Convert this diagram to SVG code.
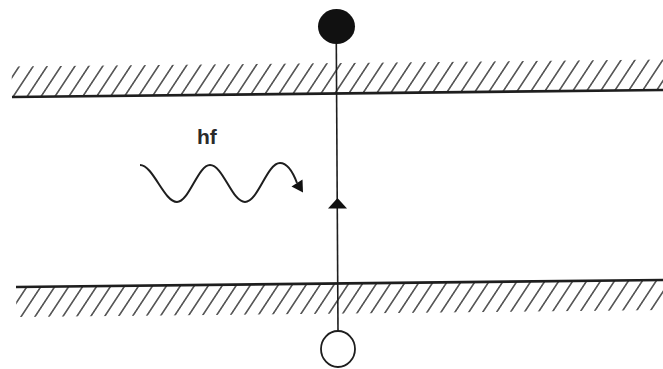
<svg xmlns="http://www.w3.org/2000/svg" width="663" height="369" viewBox="0 0 663 369">
  <style>
    .ink { stroke: #1e1e1e; fill: none; }
    .wall { stroke: #1e1e1e; stroke-width: 2.6; }
    .label { font-family: "Liberation Sans", Arial, sans-serif; font-size: 21px; font-weight: bold; fill: #2a2a2a; }
  </style>
  <defs>
    <pattern id="hatch" width="14" height="10" patternUnits="userSpaceOnUse" patternTransform="skewX(-34)">
      <line x1="7" y1="-1" x2="7" y2="11" stroke="#3a3a3a" stroke-width="1.7"/>
    </pattern>
  </defs>
  <rect width="663" height="369" fill="#ffffff"/>

  <g id="walls" transform="rotate(-0.62 338 190)">
    <g id="upper-wall">
      <rect x="13" y="63" width="660" height="30.5" fill="url(#hatch)"/>
      <line class="wall" x1="13" y1="93.5" x2="673" y2="93.5"/>
    </g>
    <g id="lower-wall">
      <rect x="15" y="283.5" width="660" height="30" fill="url(#hatch)"/>
      <line class="wall" x1="15" y1="283.5" x2="675" y2="283.5"/>
    </g>
  </g>

  <g id="connectors">
    <line class="ink" x1="336.3" y1="44" x2="338" y2="331" stroke-width="1.6"/>
    <polygon points="337.5,198 328,208.5 347,208.5" fill="#111"/>
  </g>

  <g id="top-particle">
    <ellipse cx="336.5" cy="26.5" rx="18.5" ry="17.5" fill="#111"/>
  </g>
  <g id="bottom-particle">
    <ellipse cx="338" cy="349" rx="17" ry="18" fill="#ffffff" stroke="#1e1e1e" stroke-width="1.8"/>
  </g>

  <g id="photon">
    <path class="ink" stroke-width="2" d="M140,165 C153,165 164,202 177,202 C189,202 198,165 210,165 C223,165 232,202 245,202 C258,202 267,163 280,163 C289,163 294,175 297,183"/>
    <polygon points="303,192.5 291.5,186.5 302.5,179.5" fill="#111"/>
    <text class="label" x="197" y="143.5">hf</text>
  </g>
</svg>
